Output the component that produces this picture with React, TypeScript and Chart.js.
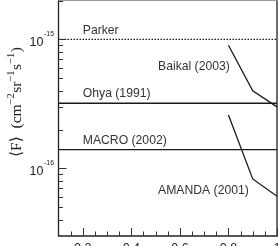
import React, { useEffect, useRef } from "react";
import { Chart, registerables } from "chart.js";
Chart.register(...registerables);

const xMin = 0.1;
const xMax = 1.0;
const yMin = 3e-17;
const yMax = 2e-15;

const parkerX = [0.1, 1.0];
const parkerY = [1e-15, 1e-15];
const ohyaX = [0.1, 1.0];
const ohyaY = [3.2e-16, 3.2e-16];
const macroX = [0.1, 1.0];
const macroY = [1.4e-16, 1.4e-16];
const baikalX = [0.8, 0.9, 1.0];
const baikalY = [9e-16, 4e-16, 3e-16];
const amandaX = [0.8, 0.9, 1.0];
const amandaY = [2.6e-16, 8.3e-17, 6.1e-17];

const xMajorTicks = [0.2, 0.4, 0.6, 0.8, 1.0];
const xTickLabels = ["0.2", "0.4", "0.6", "0.8", "1"];
const xMinorTicks = [0.15, 0.25, 0.3, 0.35, 0.45, 0.5, 0.55, 0.65, 0.7, 0.75, 0.85, 0.9, 0.95];
const yMajorTicks = [1e-16, 1e-15];
const yTickExponents = ["-16", "-15"];
const yMinorTicks = [4e-17, 5e-17, 6e-17, 7e-17, 8e-17, 9e-17, 2e-16, 3e-16, 4e-16, 5e-16, 6e-16, 7e-16, 8e-16, 9e-16, 2e-15];

const seriesLabels = ["Parker", "Ohya (1991)", "MACRO (2002)", "Baikal (2003)", "AMANDA (2001)"];
const labelX = [0.2, 0.2, 0.2, 0.51, 0.51];
const labelY = [1.11e-15, 3.6e-16, 1.56e-16, 5.8e-16, 6.3e-17];

const zip = (xs: number[], ys: number[]) => xs.map((x, i) => ({ x, y: ys[i] }));

const W = 279;
const H = 262;

const drawPlugin = {
  id: "decor",
  afterDraw(chart: any) {
    const ctx = chart.ctx as CanvasRenderingContext2D;
    const xs = chart.scales.x;
    const ys = chart.scales.y;
    const { left, right, top, bottom } = chart.chartArea;
    ctx.save();
    // frame
    ctx.lineWidth = 1;
    ctx.strokeStyle = "#999";
    ctx.beginPath();
    ctx.moveTo(left, top);
    ctx.lineTo(right, top);
    ctx.stroke();
    ctx.strokeStyle = "#222";
    ctx.lineWidth = 1.3;
    ctx.beginPath();
    ctx.moveTo(left, top);
    ctx.lineTo(left, bottom);
    ctx.lineTo(right, bottom);
    ctx.lineTo(right, top);
    ctx.stroke();
    // ticks
    ctx.lineWidth = 1;
    ctx.strokeStyle = "#333";
    ctx.beginPath();
    xMajorTicks.forEach((v) => {
      const px = Math.round(xs.getPixelForValue(v)) + 0.5;
      ctx.moveTo(px, bottom);
      ctx.lineTo(px, bottom - 8);
    });
    xMinorTicks.forEach((v) => {
      const px = Math.round(xs.getPixelForValue(v)) + 0.5;
      ctx.moveTo(px, bottom);
      ctx.lineTo(px, bottom - 4.5);
    });
    yMajorTicks.forEach((v) => {
      const py = Math.round(ys.getPixelForValue(v)) + 0.5;
      ctx.moveTo(left, py);
      ctx.lineTo(left + 8, py);
    });
    yMinorTicks.forEach((v) => {
      const py = Math.round(ys.getPixelForValue(v)) + 0.5;
      ctx.moveTo(left, py);
      ctx.lineTo(left + 4.5, py);
    });
    ctx.stroke();
    // x tick labels
    ctx.fillStyle = "#222";
    ctx.font = "12.5px 'Liberation Sans', Arial, sans-serif";
    ctx.textAlign = "center";
    ctx.textBaseline = "alphabetic";
    xMajorTicks.forEach((v, i) => {
      ctx.fillText(xTickLabels[i], xs.getPixelForValue(v), bottom + 15.5);
    });
    // y tick labels 10^n
    yMajorTicks.forEach((v, i) => {
      const py = ys.getPixelForValue(v);
      ctx.font = "12.5px 'Liberation Sans', Arial, sans-serif";
      ctx.textAlign = "right";
      ctx.fillText("10", 43.5, py + 6.5);
      ctx.font = "7px 'Liberation Sans', Arial, sans-serif";
      ctx.textAlign = "left";
      ctx.fillText(yTickExponents[i], 44, py - 3);
    });
    // series labels
    ctx.font = "12.2px 'Liberation Sans', Arial, sans-serif";
    ctx.fillStyle = "#333";
    ctx.textAlign = "left";
    seriesLabels.forEach((t, i) => {
      ctx.fillText(t, xs.getPixelForValue(labelX[i]), ys.getPixelForValue(labelY[i]));
    });
    // y title
    ctx.translate(20.5, 157);
    ctx.rotate(-Math.PI / 2);
    ctx.fillStyle = "#222";
    const main = "15.5px 'Liberation Serif', 'DejaVu Serif', serif";
    const sup = "10.5px 'Liberation Serif', 'DejaVu Serif', serif";
    const parts: [string, boolean][] = [
      ["\u27E8F\u27E9", false],
      ["  (cm", false],
      ["\u22122", true],
      ["sr", false],
      ["\u22121", true],
      ["s", false],
      ["\u22121", true],
      [")", false],
    ];
    let cx = 0;
    parts.forEach(([t, s]) => {
      ctx.font = s ? sup : main;
      ctx.fillText(t, cx, s ? -6.5 : 0);
      cx += ctx.measureText(t).width + (s ? 0.5 : 0);
    });
    ctx.restore();
  },
};

export default function App() {
  const ref = useRef<HTMLCanvasElement | null>(null);
  useEffect(() => {
    if (!ref.current) return;
    const line = (data: any[], dash: number[] = []) => ({
      data,
      borderColor: "#1a1a1a",
      borderWidth: 1.3,
      borderDash: dash,
      pointRadius: 0,
      showLine: true,
      fill: false,
      tension: 0,
    });
    const chart = new Chart(ref.current, {
      type: "scatter",
      data: {
        datasets: [
          line(zip(parkerX, parkerY), [1.5, 1.5]),
          line(zip(ohyaX, ohyaY)),
          line(zip(macroX, macroY)),
          line(zip(baikalX, baikalY)),
          line(zip(amandaX, amandaY)),
        ],
      },
      options: {
        responsive: false,
        animation: false,
        events: [],
        layout: { padding: { left: 58.5, right: 2, top: 0.5, bottom: H - 236 } },
        plugins: { legend: { display: false }, tooltip: { enabled: false } },
        scales: {
          x: { type: "linear", min: xMin, max: xMax, display: false },
          y: { type: "logarithmic", min: yMin, max: yMax, display: false },
        },
      },
      plugins: [drawPlugin],
    });
    return () => chart.destroy();
  }, []);
  return (
    <div style={{ position: "fixed", left: 0, top: 0, width: W, height: H, background: "#fff" }}>
      <canvas ref={ref} width={W} height={H} style={{ display: "block" }} />
    </div>
  );
}
